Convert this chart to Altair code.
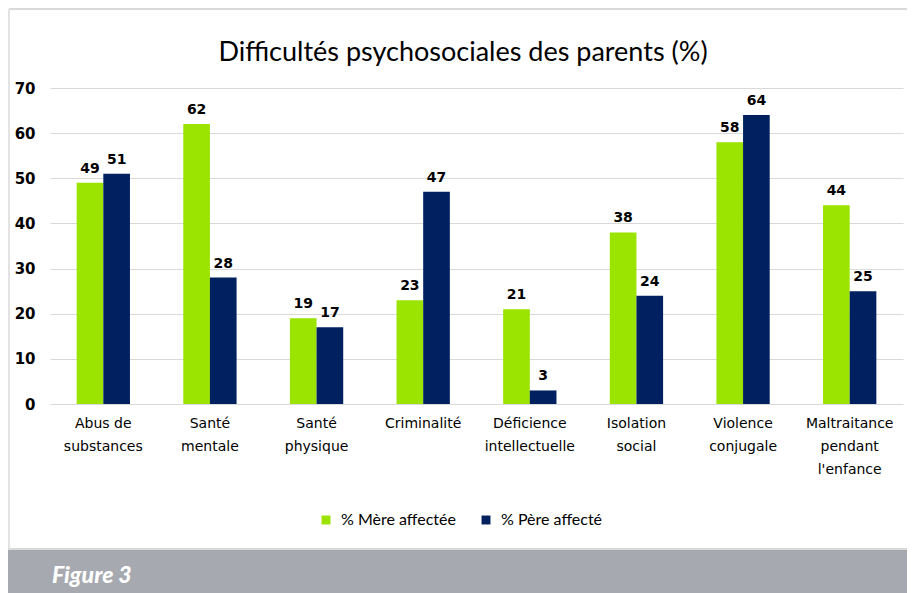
import altair as alt
import pandas as pd

categories = ["Abus de|substances", "Santé|mentale", "Santé|physique", "Criminalité",
              "Déficience|intellectuelle", "Isolation|social", "Violence|conjugale",
              "Maltraitance|pendant|l'enfance"]
series = ["% Mère affectée", "% Père affecté"]
mere = [49, 62, 19, 23, 21, 38, 58, 44]
pere = [51, 28, 17, 47, 3, 24, 64, 25]
colors = ["#9BE300", "#002060"]
title_text = "Difficultés psychosociales des parents (%)"
footer_text = "Figure 3"

rows = []
for c, m, p in zip(categories, mere, pere):
    rows.append({"cat": c, "serie": series[0], "val": m})
    rows.append({"cat": c, "serie": series[1], "val": p})
df = pd.DataFrame(rows)

x_enc = alt.X("cat:N", sort=categories,
              scale=alt.Scale(paddingInner=0.5, paddingOuter=0.25),
              axis=alt.Axis(title=None, labelAngle=0, labelExpr="split(datum.label, '|')",
                            labelFont="DejaVu Sans", labelFontSize=14, labelColor="#000000",
                            labelPadding=12, labelLineHeight=23, ticks=False, domain=False,
                            grid=False, labelBaseline="top"))
xo_enc = alt.XOffset("serie:N", sort=series, scale=alt.Scale(paddingInner=0, paddingOuter=0))
y_enc = alt.Y("val:Q", scale=alt.Scale(domain=[0, 70], nice=False),
              axis=alt.Axis(title=None, values=list(range(0, 71, 10)), ticks=False,
                            domain=False, grid=True, gridColor="#D9D9D9", gridWidth=1,
                            labelFont="DejaVu Sans", labelFontSize=15, labelFontWeight="bold",
                            labelColor="#000000", labelPadding=15))

base = alt.Chart(df)

bars = base.mark_bar().encode(
    x=x_enc, xOffset=xo_enc, y=y_enc,
    color=alt.Color("serie:N", sort=series,
                    scale=alt.Scale(domain=series, range=colors),
                    legend=alt.Legend(title=None, orient="none", direction="horizontal",
                                      legendX=268, legendY=424, symbolType="square",
                                      symbolSize=80, symbolStrokeWidth=0,
                                      labelFont="Lato", labelFontSize=16, labelColor="#000000",
                                      labelOffset=7, columnPadding=22)),
)

labels = base.mark_text(baseline="bottom", dy=-7, font="DejaVu Sans", fontSize=14,
                        fontWeight="bold", color="#000000").encode(
    x=alt.X("cat:N", sort=categories), xOffset=alt.XOffset("serie:N", sort=series),
    y="val:Q", text="val:Q"
)

deco_df = pd.DataFrame({"t": [footer_text], "title": [title_text]})
band = alt.Chart(deco_df).mark_rect(fill="#A6A9B0").encode(
    x=alt.value(-42), x2=alt.value(870), y=alt.value(462), y2=alt.value(510)
)
top_line = alt.Chart(deco_df).mark_rule(stroke="#D9D9D9", strokeWidth=2).encode(
    x=alt.value(-41), x2=alt.value(870), y=alt.value(-79)
)
left_line = alt.Chart(deco_df).mark_rule(stroke="#E3E3E3", strokeWidth=2).encode(
    x=alt.value(-41), y=alt.value(-79), y2=alt.value(461)
)
sep_line = alt.Chart(deco_df).mark_rule(stroke="#D9D9D9", strokeWidth=2).encode(
    x=alt.value(-42), x2=alt.value(870), y=alt.value(461)
)
footer = alt.Chart(deco_df).mark_text(align="left", baseline="middle", font="Lato",
                                      fontSize=23, fontWeight=900, fontStyle="italic",
                                      color="#FFFFFF").encode(
    x=alt.value(2), y=alt.value(488), text="t:N"
)
title = alt.Chart(deco_df).mark_text(align="center", baseline="middle", font="Lato",
                                     fontSize=27, color="#000000").encode(
    x=alt.value(413), y=alt.value(-35), text="title:N"
)

chart = alt.layer(band, top_line, left_line, sep_line, bars, labels, footer, title).properties(
    width=853, height=316,
    padding={"left": 42, "top": 80, "right": 4, "bottom": 189},
    autosize="none",
    background="#FFFFFF",
).configure_view(stroke=None)

chart.save("out.html", embed_options={"renderer": "svg", "actions": False})
